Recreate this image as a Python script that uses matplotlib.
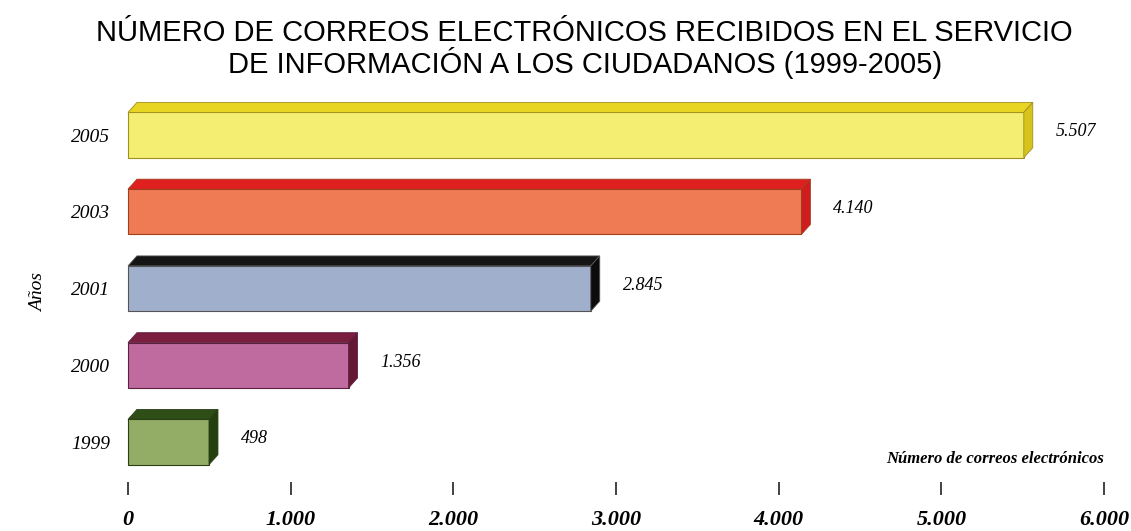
import matplotlib.pyplot as plt
from matplotlib.patches import Polygon, Rectangle

# data
years = ['1999', '2000', '2001', '2003', '2005']
emails = [498, 1356, 2845, 4140, 5507]
value_labels = ['498', '1.356', '2.845', '4.140', '5.507']
x_ticks = [0, 1000, 2000, 3000, 4000, 5000, 6000]
x_tick_labels = ['0', '1.000', '2.000', '3.000', '4.000', '5.000', '6.000']

# (front, top, side, edge) colours per bar
front_colors = ['#93ad66', '#c06ba0', '#a0afcc', '#ee7b53', '#f4ee72']
top_colors = ['#2e4d17', '#7a1e40', '#151515', '#e01f1f', '#e8d422']
side_colors = ['#24400f', '#651834', '#0c0c0c', '#cf1d1d', '#d8c21c']
edge_colors = ['#2a3f18', '#5c2040', '#555555', '#a04020', '#a09020']

serif = ['Liberation Serif', 'DejaVu Serif']

fig = plt.figure(figsize=(11.31, 5.31), dpi=100)
ax = fig.add_axes([128 / 1131, 1 - 495 / 531, (1104 - 128) / 1131, (495 - 89) / 531])
ax.set_xlim(0, 6000)
ax.set_ylim(-0.69, 4.6)

bar_h = 0.59
dx = 55      # depth in data units (x)
dy = 0.13    # depth in data units (y)

for i, v in enumerate(emails):
    y0 = i - bar_h / 2
    y1 = i + bar_h / 2
    # front face
    ax.add_patch(Rectangle((0, y0), v, bar_h, facecolor=front_colors[i],
                           edgecolor=edge_colors[i], lw=0.8, zorder=3, clip_on=False))
    # top face
    ax.add_patch(Polygon([(0, y1), (dx, y1 + dy), (v + dx, y1 + dy), (v, y1)],
                         closed=True, facecolor=top_colors[i],
                         edgecolor=edge_colors[i], lw=0.6, zorder=3, clip_on=False))
    # side face
    ax.add_patch(Polygon([(v, y0), (v, y1), (v + dx, y1 + dy), (v + dx, y0 + dy)],
                         closed=True, facecolor=side_colors[i],
                         edgecolor=edge_colors[i], lw=0.6, zorder=3, clip_on=False))
    ax.text(v + dx + 140, i + 0.04, value_labels[i], ha='left', va='center',
            fontsize=13, fontstyle='italic', family=serif)

for s in ax.spines.values():
    s.set_visible(False)

ax.set_yticks(range(len(years)))
ax.set_yticklabels(years, fontsize=14, fontstyle='italic', family=serif)
ax.tick_params(axis='y', length=0, pad=13)

ax.set_xticks(x_ticks)
ax.set_xticklabels(x_tick_labels, fontsize=16, fontstyle='italic', fontweight='bold', family=serif)
ax.tick_params(axis='x', direction='in', length=9.5, width=1.2, color='#222222', pad=11)

ax.set_ylabel('Años', fontsize=14, fontstyle='italic', family=serif)
ax.yaxis.set_label_coords(-0.083, 0.5)

ax.text(6000, -0.22, 'Número de correos electrónicos', ha='right', va='center',
        fontsize=12, fontstyle='italic', fontweight='bold', family=serif)

fig.suptitle('NÚMERO DE CORREOS ELECTRÓNICOS RECIBIDOS EN EL SERVICIO\nDE INFORMACIÓN A LOS CIUDADANOS (1999-2005)',
             x=0.517, y=0.965, fontsize=21, family=['Liberation Sans', 'DejaVu Sans'],
             linespacing=1.0, va='top')

fig.savefig('out.png', dpi=100)
